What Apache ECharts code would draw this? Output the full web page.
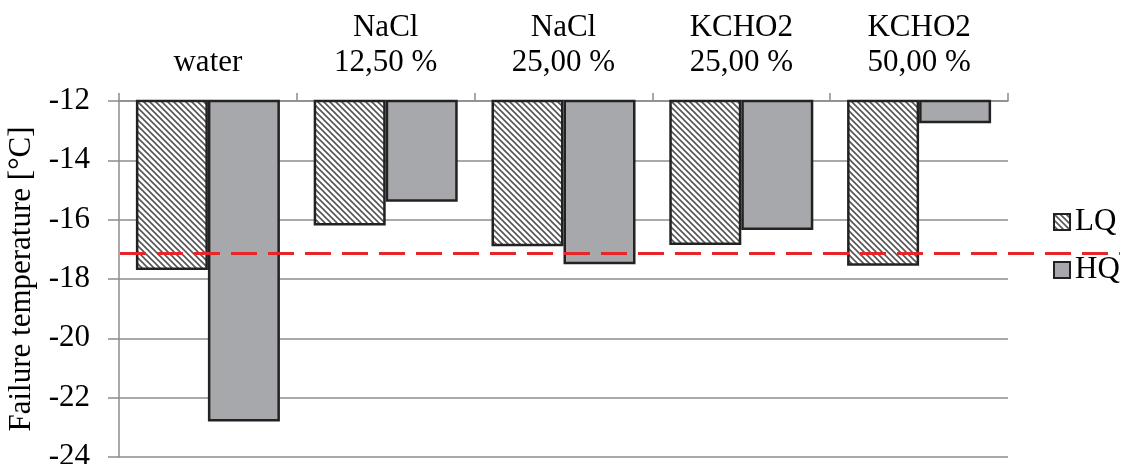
<!DOCTYPE html>
<html>
<head>
<meta charset="utf-8">
<script src="https://cdn.jsdelivr.net/npm/echarts@6/dist/echarts.min.js"></script>
<style>
  html, body { margin: 0; padding: 0; background: #fff; }
  #chart { width: 1126px; height: 464px; }
</style>
</head>
<body>
<div id="chart"></div>
<script>
// data
const categories = ['water', 'NaCl\n12,50 %', 'NaCl\n25,00 %', 'KCHO2\n25,00 %', 'KCHO2\n50,00 %'];
const lqValues = [-17.7, -16.2, -16.9, -16.85, -17.55];
const hqValues = [-22.8, -15.4, -17.5, -16.35, -12.75];
const limitValue = -17.12; // red dashed reference line
const yTicks = { min: -24, max: -12, interval: 2 };

// hatch pattern for LQ
function hatch() {
  const size = 6;
  const c = document.createElement('canvas');
  c.width = size;
  c.height = size;
  const ctx = c.getContext('2d');
  ctx.fillStyle = '#fff';
  ctx.fillRect(0, 0, size, size);
  ctx.strokeStyle = '#555';
  ctx.lineWidth = 1.6;
  ctx.beginPath();
  ctx.moveTo(-size, 0); ctx.lineTo(size, 2 * size);
  ctx.moveTo(0, 0); ctx.lineTo(size, size);
  ctx.moveTo(0, -size); ctx.lineTo(2 * size, size);
  ctx.stroke();
  return c;
}

const font = 'Liberation Serif';
const fontSize = 31;
const chart = echarts.init(document.getElementById('chart'));

const barConfig = {
  type: 'bar',
  barGap: 0,
  barCategoryGap: '19%',
  clip: true
};

chart.setOption({
  animation: false,
  backgroundColor: '#fff',
  textStyle: { fontFamily: font },
  grid: [
    { left: 119, right: 118, top: 101, bottom: 7, outerBoundsMode: 'none' },
    // second grid only for the red line, which runs past the plot on the right
    { left: 120, right: 6, top: 101, bottom: 7, outerBoundsMode: 'none' }
  ],
  legend: {
    data: ['LQ', 'HQ'],
    icon: 'rect',
    orient: 'vertical',
    left: 1048,
    top: 201,
    itemWidth: 16,
    itemHeight: 16,
    itemGap: 16,
    textStyle: { fontSize: fontSize, lineHeight: 32, color: '#000', fontFamily: font }
  },
  xAxis: [
    {
      type: 'category',
      gridIndex: 0,
      position: 'top',
      data: categories,
      axisLine: { lineStyle: { color: '#8c8c8c', width: 1.5 } },
      axisTick: { show: true, length: 8, lineStyle: { color: '#8c8c8c', width: 1.5 } },
      axisLabel: { color: '#000', fontSize: fontSize, lineHeight: 35, margin: 21, fontFamily: font }
    },
    { type: 'value', gridIndex: 1, min: 0, max: 1, show: false }
  ],
  yAxis: [
    {
      type: 'value',
      gridIndex: 0,
      min: yTicks.min,
      max: yTicks.max,
      interval: yTicks.interval,
      name: 'Failure temperature [°C]',
      nameLocation: 'middle',
      nameGap: 74,
      nameTextStyle: { fontSize: fontSize, color: '#000', fontFamily: font },
      axisLine: { show: true, lineStyle: { color: '#8c8c8c', width: 1.5 } },
      axisTick: { show: true, length: 11, lineStyle: { color: '#8c8c8c', width: 1.5 } },
      axisLabel: { color: '#000', fontSize: fontSize, margin: 29, fontFamily: font },
      splitLine: { lineStyle: { color: '#8c8c8c', width: 1.5 } }
    },
    { type: 'value', gridIndex: 1, min: yTicks.min, max: yTicks.max, show: false }
  ],
  series: [
    {
      ...barConfig,
      name: 'LQ',
      data: lqValues,
      itemStyle: {
        color: { image: hatch(), repeat: 'repeat' },
        borderColor: '#222',
        borderWidth: 2.5
      }
    },
    {
      ...barConfig,
      name: 'HQ',
      data: hqValues,
      itemStyle: {
        color: '#a7a8ab',
        borderColor: '#222',
        borderWidth: 2.5
      }
    },
    {
      // red dashed line
      type: 'line',
      xAxisIndex: 1,
      yAxisIndex: 1,
      data: [],
      silent: true,
      markLine: {
        symbol: 'none',
        silent: true,
        label: { show: false },
        lineStyle: { color: '#e8262a', width: 3, type: [26, 11] },
        data: [{ yAxis: limitValue }]
      }
    }
  ]
});
</script>
</body>
</html>
